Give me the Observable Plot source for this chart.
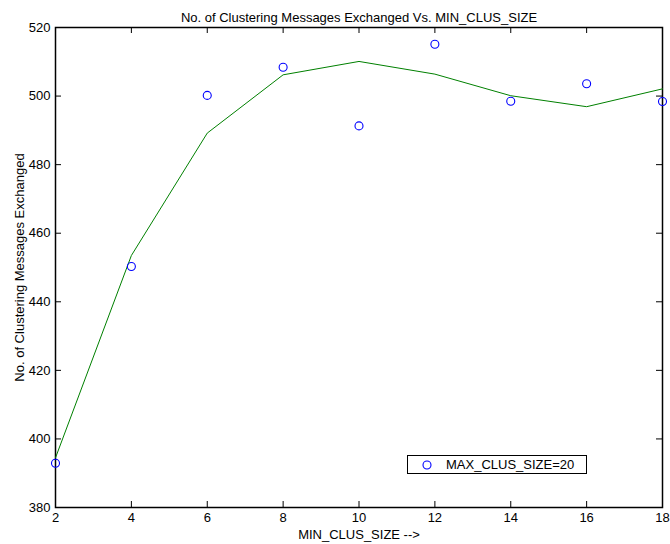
<!DOCTYPE html>
<html>
<head>
<meta charset="utf-8">
<script src="https://cdn.jsdelivr.net/npm/d3@7"></script>
<script src="https://cdn.jsdelivr.net/npm/@observablehq/plot@0.6"></script>
<style>
  html, body { margin: 0; padding: 0; background: #fff; }
  #wrap { position: relative; width: 670px; height: 544px; font-family: "Liberation Sans", Arial, sans-serif; }
  #wrap svg { overflow: visible; }
  #legend { position: absolute; left: 407px; top: 455px; width: 178px; height: 17px; border: 1px solid #000; background: #fff;
            font-size: 13px; line-height: 17px; color: #000; }
  #legend svg { position: absolute; left: 14px; top: 4px; }
  #legend span { position: absolute; left: 38px; top: 0; }
</style>
</head>
<body>
<div id="wrap"></div>
<script>
const minClusSize = [2, 4, 6, 8, 10, 12, 14, 16, 18];
const messagesMeasured = [392.9, 450.3, 500.2, 508.4, 491.3, 515.1, 498.5, 503.6, 498.4];
const messagesFit = [394.5, 453.5, 489.2, 506.2, 510.1, 506.4, 500.1, 496.9, 502.1];
const xTicks = [2, 4, 6, 8, 10, 12, 14, 16, 18];
const yTicks = [380, 400, 420, 440, 460, 480, 500, 520];
const titleText = "No. of Clustering Messages Exchanged Vs. MIN_CLUS_SIZE";
const xLabel = "MIN_CLUS_SIZE -->";
const yLabel = "No. of Clustering Messages Exchanged";
const legendLabel = "MAX_CLUS_SIZE=20";

const measured = minClusSize.map((x, i) => ({x, y: messagesMeasured[i]}));
const fit = minClusSize.map((x, i) => ({x, y: messagesFit[i]}));

const W = 670, H = 544, mL = 55, mR = 8, mT = 27, mB = 37;
const pw = W - mL - mR, ph = H - mT - mB, tl = 6;

const chart = Plot.plot({
  width: W, height: H,
  marginLeft: mL, marginRight: mR, marginTop: mT, marginBottom: mB,
  style: {fontFamily: '"Liberation Sans", Arial, sans-serif', fontSize: "13px", color: "#000", background: "#fff", overflow: "visible"},
  x: {domain: [2, 18]},
  y: {domain: [380, 520]},
  marks: [
    Plot.axisX(xTicks, {tickSize: 0, tickPadding: 5, fontSize: 13, label: xLabel, labelAnchor: "center", labelOffset: 31, labelArrow: "none"}),
    Plot.axisY(yTicks, {tickSize: 0, tickPadding: 5, fontSize: 13, label: yLabel, labelAnchor: "center", labelOffset: 41, labelArrow: "none"}),
    Plot.tickX(xTicks, {x: d => d, insetTop: ph - tl, stroke: "#000", strokeWidth: 1}),
    Plot.tickX(xTicks, {x: d => d, insetBottom: ph - tl, stroke: "#000", strokeWidth: 1}),
    Plot.tickY(yTicks, {y: d => d, insetRight: pw - tl, stroke: "#000", strokeWidth: 1}),
    Plot.tickY(yTicks, {y: d => d, insetLeft: pw - tl, stroke: "#000", strokeWidth: 1}),
    Plot.frame({stroke: "#000", strokeWidth: 1.5}),
    Plot.line(fit, {x: "x", y: "y", stroke: "#008000", strokeWidth: 1}),
    Plot.dot(measured, {x: "x", y: "y", r: 4, stroke: "#0000ff", strokeWidth: 1.1, fill: "none"}),
    Plot.text([titleText], {text: d => d, frameAnchor: "top", dy: -15, fontSize: 13, fill: "#000"})
  ]
});

const wrap = document.getElementById("wrap");
wrap.appendChild(chart);
const leg = document.createElement("div");
leg.id = "legend";
leg.innerHTML = '<svg width="10" height="10"><circle cx="5" cy="5" r="4" fill="none" stroke="#0000ff" stroke-width="1.1"/></svg><span></span>';
leg.querySelector("span").textContent = legendLabel;
wrap.appendChild(leg);
</script>
</body>
</html>
